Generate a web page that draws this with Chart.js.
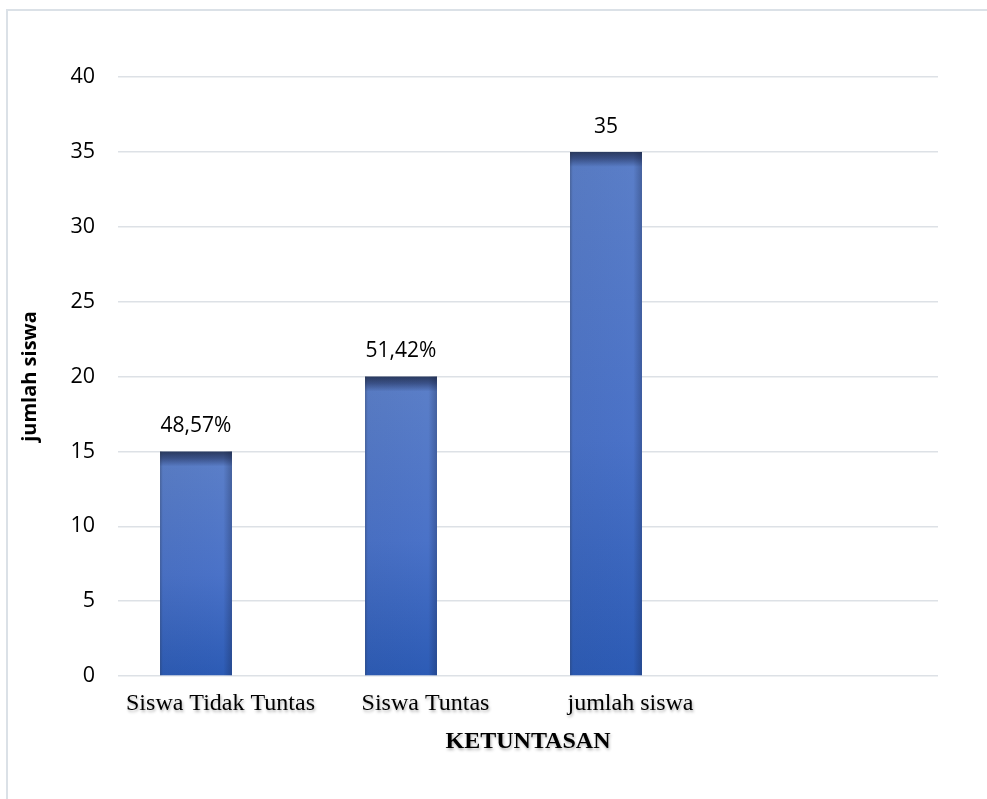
<!DOCTYPE html>
<html>
<head>
<meta charset="utf-8">
<script src="https://cdn.jsdelivr.net/npm/chart.js@4"></script>
<style>
  html, body { margin: 0; padding: 0; background: #fff; overflow: hidden; }
  #wrap { position: relative; width: 987px; height: 799px; }
  #frame { position: absolute; left: 6px; top: 9px; width: 1000px; height: 820px; border: 2px solid #dbe1e7; box-sizing: border-box; }
  canvas { position: absolute; left: 0; top: 0; }
</style>
</head>
<body>
<div id="wrap">
  <div id="frame"></div>
  <canvas id="chart-main" width="987" height="799"></canvas>
</div>
<script>
// data
const categories = ['Siswa Tidak Tuntas', 'Siswa Tuntas', 'jumlah siswa', ''];
const jumlah = [15, 20, 35, null];
const emptySeries = [null, null, null, null];
const barLabels = ['48,57%', '51,42%', '35', ''];
const yMin = 0, yMax = 40, yStep = 5;

const SANS = '"Open Sans", "Noto Sans", sans-serif';
const SERIF = '"Liberation Serif", "DejaVu Serif", serif';

// Excel-like gradient per bar (dark cap at the top, lighter body, darker base)
const barFill = (ctx) => {
  const chart = ctx.chart;
  if (!chart.chartArea || ctx.raw == null) return '#4472c4';
  const yS = chart.scales.y;
  const top = yS.getPixelForValue(ctx.raw);
  const bot = yS.getPixelForValue(0);
  const h = Math.max(1, bot - top);
  const s = Math.min(0.5, 15 / h);
  const g = chart.ctx.createLinearGradient(0, top, 0, bot);
  g.addColorStop(0, '#2a3a5f');
  g.addColorStop(s * 0.45, '#3a5188');
  g.addColorStop(s, '#5a7ec8');
  g.addColorStop(0.55, '#4a72c8');
  g.addColorStop(1, '#2c5bb5');
  return g;
};

const edgeShade = {
  id: 'edgeShade',
  afterDatasetsDraw(chart) {
    const ctx = chart.ctx;
    chart.getDatasetMeta(0).data.forEach((el, i) => {
      if (jumlah[i] == null) return;
      const { x, y, base, width } = el.getProps(['x', 'y', 'base', 'width'], true);
      const left = x - width / 2;
      const g = ctx.createLinearGradient(left, 0, left + width, 0);
      g.addColorStop(0, 'rgba(40,50,70,0.35)');
      g.addColorStop(0.04, 'rgba(40,50,70,0.05)');
      g.addColorStop(0.88, 'rgba(20,30,60,0)');
      g.addColorStop(1, 'rgba(20,30,60,0.3)');
      ctx.save();
      ctx.fillStyle = g;
      ctx.fillRect(left, y, width, base - y);
      ctx.restore();
    });
  }
};

const valueLabels = {
  id: 'valueLabels',
  afterDatasetsDraw(chart) {
    const ctx = chart.ctx;
    ctx.save();
    ctx.font = `21px ${SANS}`;
    ctx.fillStyle = '#000';
    ctx.textAlign = 'center';
    ctx.textBaseline = 'middle';
    chart.getDatasetMeta(0).data.forEach((el, i) => {
      if (jumlah[i] == null) return;
      ctx.fillText(barLabels[i], el.x, el.y - 25);
    });
    ctx.restore();
  }
};

// soft shadow under the serif category labels / axis title
const serifShadow = {
  id: 'serifShadow',
  beforeDraw(chart) {
    const sc = chart.scales.x;
    if (sc._shadowed) return;
    sc._shadowed = true;
    ['drawLabels', 'drawTitle'].forEach(fn => {
      const orig = sc[fn];
      sc[fn] = function (...args) {
        const c = this.ctx;
        c.save();
        c.shadowColor = 'rgba(0,0,0,0.3)';
        c.shadowBlur = 3;
        c.shadowOffsetX = 1;
        c.shadowOffsetY = 2;
        orig.apply(this, args);
        c.restore();
      };
    });
  }
};

new Chart(document.getElementById('chart-main'), {
  type: 'bar',
  data: {
    labels: categories,
    datasets: [
      { label: 'jumlah siswa', data: jumlah, backgroundColor: barFill, borderWidth: 0 },
      { label: '', data: emptySeries, backgroundColor: '#ed7d31', borderWidth: 0 }
    ]
  },
  options: {
    responsive: false,
    animation: false,
    devicePixelRatio: 1,
    categoryPercentage: 0.478,
    barPercentage: 1.469,
    layout: { padding: { top: 77, right: 49, bottom: 23, left: 0 } },
    plugins: { legend: { display: false }, tooltip: { enabled: false } },
    scales: {
      x: {
        grid: { display: false, drawTicks: false },
        border: { display: false },
        ticks: { color: '#000', font: { family: SERIF, size: 24 }, padding: 13, maxRotation: 0, autoSkip: false },
        title: { display: true, text: 'KETUNTASAN', color: '#000', font: { family: SERIF, size: 24, weight: 'bold' }, padding: { top: 0, bottom: 20 } },
        afterFit: (scale) => { scale.height = 100; }
      },
      y: {
        min: yMin,
        max: yMax,
        grid: { color: '#dde1e6', lineWidth: 1.5, drawTicks: false },
        border: { display: false },
        ticks: { stepSize: yStep, color: '#000', font: { family: SANS, size: 21.5 }, padding: 23 },
        title: { display: true, text: 'jumlah siswa', color: '#000', font: { family: SANS, size: 20, weight: 'bold' }, padding: { top: 18, bottom: 0 } },
        afterFit: (scale) => { scale.width = 118; }
      }
    }
  },
  plugins: [edgeShade, valueLabels, serifShadow]
});
</script>
</body>
</html>
